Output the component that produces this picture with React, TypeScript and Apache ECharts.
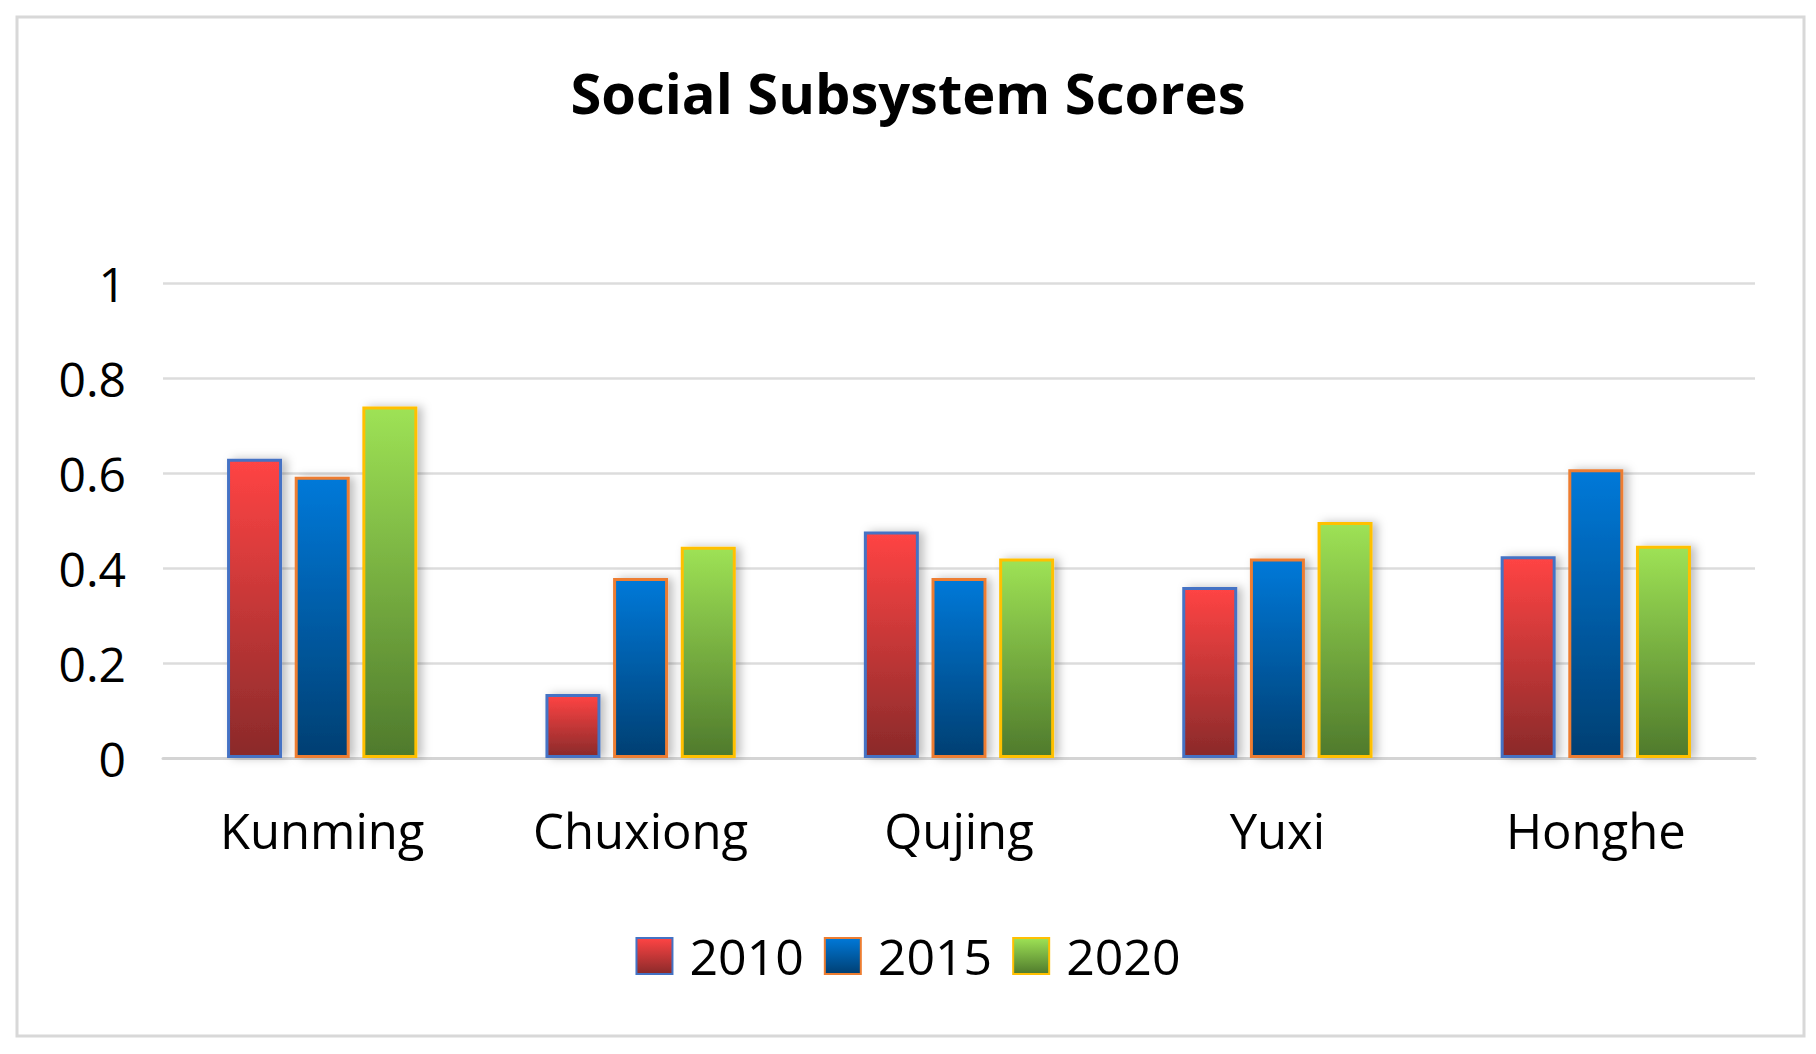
import React, { useEffect, useRef } from "react";
import * as echarts from "echarts";

const categories = ["Kunming", "Chuxiong", "Qujing", "Yuxi", "Honghe"];
const years = ["2010", "2015", "2020"];
const values2010 = [0.63, 0.135, 0.477, 0.36, 0.425];
const values2015 = [0.592, 0.379, 0.379, 0.42, 0.608];
const values2020 = [0.74, 0.445, 0.42, 0.497, 0.447];
const yTicks = [0, 0.2, 0.4, 0.6, 0.8, 1];

const FONT = "'Open Sans', 'Noto Sans', sans-serif";

const grad = (top: string, bottom: string) =>
  new echarts.graphic.LinearGradient(0, 0, 0, 1, [
    { offset: 0, color: top },
    { offset: 1, color: bottom },
  ]);

export default function App() {
  const ref = useRef<HTMLDivElement>(null);
  useEffect(() => {
    if (!ref.current) return;
    const chart = echarts.init(ref.current, null, { renderer: "svg" });
    const styles = [
      { fill: grad("#FF4444", "#8A2A2A"), border: "#4472C4" },
      { fill: grad("#0079D9", "#003F72"), border: "#ED7D31" },
      { fill: grad("#9EE255", "#4F7A2C"), border: "#FFC000" },
    ];
    const data = [values2010, values2015, values2020];
    chart.setOption({
      animation: false,
      backgroundColor: "#ffffff",
      title: {
        text: "Social Subsystem Scores",
        left: "center",
        top: 59,
        textStyle: { fontFamily: FONT, fontWeight: "bold", fontSize: 56, color: "#000" },
      },
      legend: {
        data: years,
        left: "center",
        top: 926,
        icon: "rect",
        itemWidth: 36,
        itemHeight: 36,
        itemGap: 20,
        textStyle: { fontFamily: FONT, fontSize: 50, color: "#000", padding: [0, 0, 0, 12] },
      },
      grid: { left: 163, right: 61, top: 283, bottom: 296, containLabel: false },
      xAxis: {
        type: "category",
        data: categories,
        axisTick: { show: false },
        axisLine: { lineStyle: { color: "#d4d4d4", width: 3 } },
        axisLabel: { fontFamily: FONT, fontSize: 49, color: "#000", margin: 47 },
      },
      yAxis: {
        type: "value",
        min: yTicks[0],
        max: yTicks[yTicks.length - 1],
        interval: 0.2,
        axisLine: { show: false },
        axisTick: { show: false },
        splitLine: { lineStyle: { color: "#dcdcdc", width: 2.5 } },
        axisLabel: {
          fontFamily: FONT,
          fontSize: 48,
          color: "#000",
          margin: 37,
          formatter: (v: number) => String(Math.round(v * 10) / 10),
        },
      },
      graphic: [
        {
          type: "rect",
          shape: { x: 17, y: 17, width: 1787, height: 1019 },
          style: { fill: "none", stroke: "#d8d8d8", lineWidth: 3 },
          silent: true,
          z: -1,
        },
      ],
      series: years.map((y, i) => ({
        name: y,
        type: "bar",
        data: data[i],
        barWidth: 55,
        barGap: "23%",
        itemStyle: {
          color: styles[i].fill,
          borderColor: styles[i].border,
          borderWidth: 3,
          shadowColor: "rgba(0,0,0,0.25)",
          shadowBlur: 10,
          shadowOffsetX: 5,
          shadowOffsetY: 0,
        },
      })),
    });
    return () => chart.dispose();
  }, []);
  return (
    <div
      ref={ref}
      style={{ width: 1816, height: 1054, position: "absolute", left: 0, top: 0 }}
    />
  );
}
